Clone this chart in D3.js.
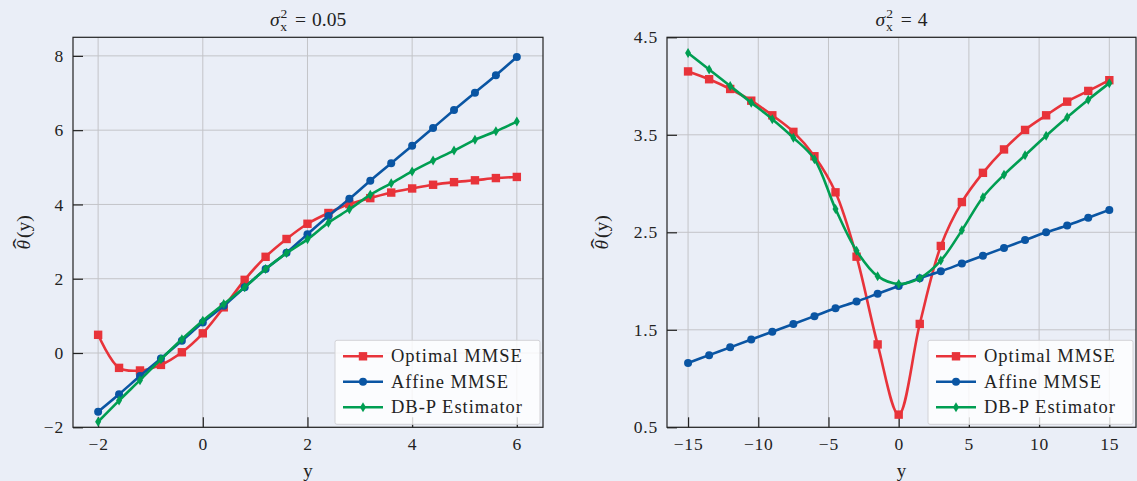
<!DOCTYPE html>
<html>
<head>
<meta charset="utf-8">
<script src="https://cdn.jsdelivr.net/npm/d3@7"></script>
<style>
  html, body { margin: 0; padding: 0; background: #eaeef7; }
  svg { display: block; }
  text { font-family: 'Liberation Serif', serif; fill: #222; }
</style>
</head>
<body>
<div id="chart"></div>
<script>
// left panel: sigma_x^2 = 0.05
const leftY = [-2, -1.6, -1.2, -0.8, -0.4, 0, 0.4, 0.8, 1.2, 1.6, 2, 2.4, 2.8, 3.2, 3.6, 4, 4.4, 4.8, 5.2, 5.6, 6];
const leftOptimal = [0.49, -0.40, -0.47, -0.32, 0.02, 0.53, 1.23, 1.97, 2.59, 3.07, 3.48, 3.77, 4.01, 4.17, 4.32, 4.43, 4.53, 4.60, 4.65, 4.71, 4.74];
const leftAffine = [-1.58, -1.11, -0.62, -0.15, 0.33, 0.82, 1.27, 1.77, 2.26, 2.70, 3.20, 3.69, 4.15, 4.64, 5.11, 5.58, 6.06, 6.54, 7.01, 7.48, 7.97];
const leftDBP = [-1.85, -1.28, -0.73, -0.17, 0.37, 0.87, 1.32, 1.77, 2.26, 2.69, 3.06, 3.51, 3.87, 4.26, 4.57, 4.89, 5.18, 5.45, 5.74, 5.97, 6.23];
const leftXTicks = [-2, 0, 2, 4, 6];
const leftYTicks = [-2, 0, 2, 4, 6, 8];

// right panel: sigma_x^2 = 4
const rightY = [-15, -13.5, -12, -10.5, -9, -7.5, -6, -4.5, -3, -1.5, 0, 1.5, 3, 4.5, 6, 7.5, 9, 10.5, 12, 13.5, 15];
const rightOptimal = [4.15, 4.07, 3.97, 3.85, 3.70, 3.53, 3.28, 2.91, 2.25, 1.35, 0.63, 1.56, 2.36, 2.81, 3.11, 3.35, 3.55, 3.70, 3.84, 3.95, 4.06];
const rightAffine = [1.16, 1.24, 1.32, 1.40, 1.48, 1.56, 1.64, 1.72, 1.79, 1.87, 1.95, 2.03, 2.10, 2.18, 2.26, 2.34, 2.42, 2.50, 2.57, 2.65, 2.73];
const rightDBP = [4.34, 4.17, 4.00, 3.83, 3.66, 3.47, 3.25, 2.74, 2.31, 2.05, 1.97, 2.03, 2.21, 2.52, 2.86, 3.09, 3.29, 3.49, 3.68, 3.86, 4.03];
const rightXTicks = [-15, -10, -5, 0, 5, 10, 15];
const rightYTicks = [0.5, 1.5, 2.5, 3.5, 4.5];

const seriesNames = ['Optimal MMSE', 'Affine MMSE', 'DB-P Estimator'];
const seriesColors = ['#e8333a', '#0a55a3', '#009e52'];
const seriesMarkers = ['square', 'circle', 'diamond'];

const width = 1137;
const height = 481;

const svg = d3.select('#chart')
  .append('svg')
  .attr('width', width)
  .attr('height', height)
  .attr('viewBox', `0 0 ${width} ${height}`);

// marker 그리기
function drawMarker(g, type, cx, cy, color) {
  if (type === 'square') {
    g.append('rect')
      .attr('x', cx - 4.2).attr('y', cy - 4.2)
      .attr('width', 8.4).attr('height', 8.4)
      .attr('fill', color);
  } else if (type === 'circle') {
    g.append('circle')
      .attr('cx', cx).attr('cy', cy).attr('r', 4)
      .attr('fill', color);
  } else {
    g.append('path')
      .attr('d', `M${cx},${cy - 5}L${cx + 3},${cy}L${cx},${cy + 5}L${cx - 3},${cy}Z`)
      .attr('fill', color);
  }
}

function drawPanel(opt) {
  const x = d3.scaleLinear().domain(opt.xDomain).range([opt.left, opt.right]);
  const y = d3.scaleLinear().domain(opt.yDomain).range([opt.bottom, opt.top]);
  const g = svg.append('g');

  // grid
  g.append('g').selectAll('line')
    .data(opt.xTicks).enter().append('line')
    .attr('x1', (d) => x(d)).attr('x2', (d) => x(d))
    .attr('y1', opt.top).attr('y2', opt.bottom)
    .attr('stroke', '#c3c4c8').attr('stroke-width', 1);
  g.append('g').selectAll('line')
    .data(opt.yTicks).enter().append('line')
    .attr('x1', opt.left).attr('x2', opt.right)
    .attr('y1', (d) => y(d)).attr('y2', (d) => y(d))
    .attr('stroke', '#c3c4c8').attr('stroke-width', 1);

  // axes (inward ticks)
  const xAxis = g.append('g')
    .attr('transform', `translate(0, ${opt.bottom})`)
    .call(d3.axisBottom(x).tickValues(opt.xTicks).tickSize(-10).tickPadding(10).tickFormat(opt.xFormat))
    .call((a) => a.select('.domain').remove());
  const yAxis = g.append('g')
    .attr('transform', `translate(${opt.left}, 0)`)
    .call(d3.axisLeft(y).tickValues(opt.yTicks).tickSize(-10).tickPadding(9).tickFormat(opt.yFormat))
    .call((a) => a.select('.domain').remove());
  [xAxis, yAxis].forEach((a) => {
    a.selectAll('line').attr('stroke', '#222').attr('stroke-width', 1.2);
    a.selectAll('text')
      .attr('font-family', 'Liberation Serif, serif')
      .attr('font-size', 17.5)
      .attr('letter-spacing', 0.8)
      .attr('fill', '#222');
  });

  // frame
  g.append('rect')
    .attr('x', opt.left).attr('y', opt.top)
    .attr('width', opt.right - opt.left).attr('height', opt.bottom - opt.top)
    .attr('fill', 'none').attr('stroke', '#222').attr('stroke-width', 1.2);

  // series
  const line = d3.line()
    .x((d) => x(d[0]))
    .y((d) => y(d[1]))
    .curve(d3.curveCatmullRom.alpha(0.5));

  opt.series.forEach((s, i) => {
    const pts = opt.xs.map((v, k) => [v, s[k]]);
    g.append('path')
      .datum(pts)
      .attr('d', line)
      .attr('fill', 'none')
      .attr('stroke', seriesColors[i])
      .attr('stroke-width', 2.6)
      .attr('stroke-linejoin', 'round');
    const mg = g.append('g');
    pts.forEach((p) => drawMarker(mg, seriesMarkers[i], x(p[0]), y(p[1]), seriesColors[i]));
  });

  // title: sigma_x^2 = ...
  const cx = (opt.left + opt.right) / 2;
  const title = g.append('text')
    .attr('x', cx).attr('y', 26)
    .attr('text-anchor', 'middle')
    .attr('font-size', 19.5);
  title.append('tspan').attr('font-style', 'italic').text('σ');
  title.append('tspan').attr('font-size', 13.5).attr('dx', 1).attr('dy', -8).text('2');
  title.append('tspan').attr('font-size', 13.5).attr('dx', -7).attr('dy', 13).text('x');
  title.append('tspan').attr('dx', 8).attr('dy', -5).text('=');
  title.append('tspan').attr('dx', 6).text(opt.title);

  // x label
  g.append('text')
    .attr('x', cx).attr('y', 477)
    .attr('text-anchor', 'middle')
    .attr('font-size', 19)
    .text('y');

  // y label (rotated): theta with wide hat
  const yl = g.append('g').attr('transform', `translate(${opt.yLabelX}, ${(opt.top + opt.bottom) / 2}) rotate(-90)`);
  const th = yl.append('text').attr('x', 0).attr('y', 0).attr('font-size', 19.5).attr('font-style', 'italic').text('θ');
  const pr = yl.append('text').attr('x', 0).attr('y', 0).attr('font-size', 19.5).text('(y)');
  const thW = th.node().getComputedTextLength();
  const prW = pr.node().getComputedTextLength();
  const total = thW + 2 + prW;
  const x0 = -total / 2;
  th.attr('x', x0);
  pr.attr('x', x0 + thW + 2);
  yl.append('text')
    .attr('transform', `translate(${x0 + thW / 2 + 1}, ${-2}) scale(1.6,1)`)
    .attr('text-anchor', 'middle')
    .attr('font-size', 20)
    .text('ˆ');
  yl.attr('transform', `translate(${opt.yLabelX + 6}, ${(opt.top + opt.bottom) / 2}) rotate(-90)`);

  // legend
  const lg = g.append('g').attr('transform', `translate(${opt.right - 208}, ${opt.bottom - 87})`);
  lg.append('rect')
    .attr('x', 0).attr('y', 0).attr('width', 205).attr('height', 84)
    .attr('rx', 2)
    .attr('fill', 'rgba(255,255,255,0.82)')
    .attr('stroke', '#d2d2d6').attr('stroke-width', 1);
  seriesNames.forEach((name, i) => {
    const ly = 16 + i * 25.5;
    lg.append('line')
      .attr('x1', 8).attr('x2', 48).attr('y1', ly).attr('y2', ly)
      .attr('stroke', seriesColors[i]).attr('stroke-width', 2.6);
    drawMarker(lg, seriesMarkers[i], 28, ly, seriesColors[i]);
    lg.append('text')
      .attr('x', 56).attr('y', ly + 6)
      .attr('font-size', 18.5)
      .attr('letter-spacing', 1)
      .text(name);
  });
}

drawPanel({
  left: 73, right: 543, top: 37.3, bottom: 427.3,
  xDomain: [-2.48, 6.5], yDomain: [-2, 8.5],
  xTicks: leftXTicks, yTicks: leftYTicks,
  xFormat: d3.format('d'), yFormat: d3.format('d'),
  xs: leftY, series: [leftOptimal, leftAffine, leftDBP],
  title: '0.05', yLabelX: 24,
});

drawPanel({
  left: 667, right: 1136, top: 37.3, bottom: 427.3,
  xDomain: [-16.5, 16.9], yDomain: [0.5, 4.5],
  xTicks: rightXTicks, yTicks: rightYTicks,
  xFormat: d3.format('d'), yFormat: d3.format('.1f'),
  xs: rightY, series: [rightOptimal, rightAffine, rightDBP],
  title: '4', yLabelX: 602,
});
</script>
</body>
</html>
